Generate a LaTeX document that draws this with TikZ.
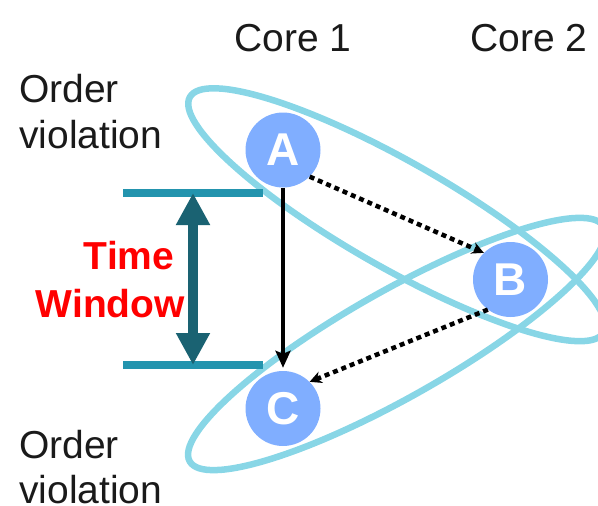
\documentclass[tikz,border=0pt]{standalone}
\usepackage{fontspec}
\setmainfont{Liberation Sans}
\usetikzlibrary{arrows.meta}

\definecolor{ringcol}{RGB}{136,214,230}
\definecolor{evcol}{RGB}{128,174,255}
\definecolor{barcol}{RGB}{35,148,174}
\definecolor{spancol}{RGB}{26,98,114}
\definecolor{txtcol}{RGB}{26,26,26}

\tikzset{
  lbl/.style={inner sep=0pt, text=txtcol, font={\fontsize{39}{46}\selectfont}},
  warn/.style={inner sep=0pt, text=red, font={\fontsize{39}{46}\selectfont\bfseries}},
  event/.style={circle, fill=evcol, minimum size=75pt, inner sep=0pt, text=white,
                font={\fontsize{46}{50}\selectfont\bfseries}},
  ring/.style={draw=ringcol, line width=6.5pt},
  bar/.style={draw=barcol, line width=8pt},
  order/.style={draw=black, line width=4pt, -{Stealth[length=17pt,width=15pt,inset=3pt]}},
  race/.style={draw=black, line width=4.5pt, dash pattern=on 5pt off 4pt,
               -{Stealth[length=12pt,width=12pt,inset=4pt]}},
}

\begin{document}
\begin{tikzpicture}[x=1pt,y=-1pt]
\useasboundingbox (0,0) rectangle (598,506);
\clip (0,0) rectangle (598,506);

% events
\coordinate (pA) at (283,150);
\coordinate (pB) at (510.5,279.5);
\coordinate (pC) at (283,408.5);

% the two order-violation groupings
\coordinate (c1) at (396.75,214.75);
\coordinate (c2) at (396.75,344);
\draw[ring, rotate around={-29.65:(c1)}] (c1) ellipse [x radius=238pt, y radius=53pt];
\draw[ring, rotate around={29.55:(c2)}] (c2) ellipse [x radius=238pt, y radius=53pt];

% column headings
\node[lbl, anchor=base] (core1) at (293,52) {Core 1};
\node[lbl, anchor=base] (core2) at (529,52) {Core 2};

% side labels
\node[lbl, anchor=base west] (ov1a) at (19,102) {Order};
\node[lbl, anchor=base west] (ov1b) at (19,148) {violation};
\node[lbl, anchor=base west] (ov2a) at (19,458) {Order};
\node[lbl, anchor=base west] (ov2b) at (19,503) {violation};

% time window marker
\coordinate (wtl) at (123,193);
\coordinate (wtr) at (263,193);
\coordinate (wbl) at (123,365);
\coordinate (wbr) at (263,365);
\coordinate (wt) at (193,193);
\coordinate (wb) at (193,365);
\draw[bar] (wtl) -- (wtr);
\draw[bar] (wbl) -- (wbr);
\draw[draw=spancol, line width=10pt,
      {Triangle[length=32pt,width=32pt]}-{Triangle[length=32pt,width=32pt]}] (wt) -- (wb);
\node[warn, anchor=base east] (tw1) at (174.5,269) {Time};
\node[warn, anchor=base east] (tw2) at (185,317) {Window};

% event nodes
\node[event] (A) at (pA) {A};
\node[event] (B) at (pB) {B};
\node[event] (C) at (pC) {C};

% dependencies
\draw[order, shorten >=3pt] (A.south) -- (C.north);
\draw[race] (A.-45) -- (B.135);
\draw[race] (B.-127) -- (C.45);
\end{tikzpicture}
\end{document}
